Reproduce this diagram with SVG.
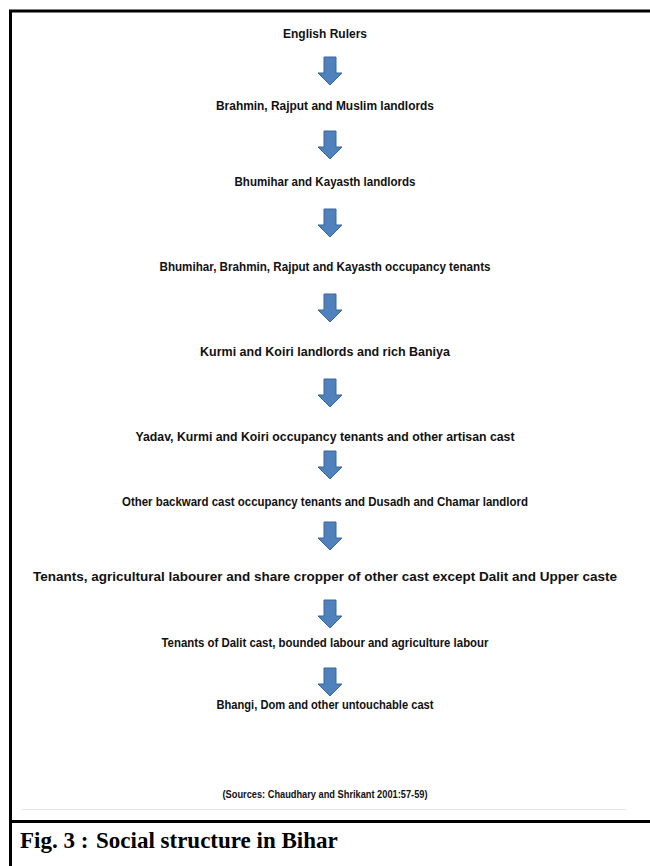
<svg xmlns="http://www.w3.org/2000/svg" width="650" height="866" viewBox="0 0 650 866">
<style>
.t{font-family:"Liberation Sans",Arial,sans-serif;font-weight:bold;font-size:12.6px;fill:#111;text-anchor:middle}
.src{font-family:"Liberation Sans",Arial,sans-serif;font-weight:bold;font-size:11px;fill:#111;text-anchor:middle}
.cap{font-family:"Liberation Serif","Times New Roman",serif;font-weight:bold;font-size:23px;fill:#000}
.ar{fill:#4F81BD;stroke:#3B679A;stroke-width:1}
</style>
<defs>
<path id="arr" d="M-6,0 H6 V16 H12 L0,28 L-12,16 H-6 Z"/>
</defs>
<rect width="650" height="866" fill="#fff"/>
<g id="frame" fill="none" stroke="#000" stroke-width="3">
<path d="M10.5,866 V11 H650"/>
<path d="M10,821.5 H650"/>
</g>
<line x1="22" y1="809.5" x2="626" y2="809.5" stroke="#e6e6e6" stroke-width="1"/>
<g id="n1"><text class="t" x="325" y="38" textLength="84" lengthAdjust="spacingAndGlyphs">English Rulers</text></g>
<g id="n2"><text class="t" x="325" y="110" textLength="218" lengthAdjust="spacingAndGlyphs">Brahmin, Rajput and Muslim landlords</text></g>
<g id="n3"><text class="t" x="325" y="186" textLength="181" lengthAdjust="spacingAndGlyphs">Bhumihar and Kayasth landlords</text></g>
<g id="n4"><text class="t" x="325" y="271" textLength="331" lengthAdjust="spacingAndGlyphs">Bhumihar, Brahmin, Rajput and Kayasth occupancy tenants</text></g>
<g id="n5"><text class="t" x="325" y="356" textLength="250" lengthAdjust="spacingAndGlyphs">Kurmi and Koiri landlords and rich Baniya</text></g>
<g id="n6"><text class="t" x="325" y="441" textLength="379" lengthAdjust="spacingAndGlyphs">Yadav, Kurmi and Koiri occupancy tenants and other artisan cast</text></g>
<g id="n7"><text class="t" x="325" y="506" textLength="406" lengthAdjust="spacingAndGlyphs">Other backward cast occupancy tenants and Dusadh and Chamar landlord</text></g>
<g id="n8"><text class="t" x="325" y="581" textLength="584" lengthAdjust="spacingAndGlyphs">Tenants, agricultural labourer and share cropper of other cast except Dalit and Upper caste</text></g>
<g id="n9"><text class="t" x="325" y="647" textLength="327" lengthAdjust="spacingAndGlyphs">Tenants of Dalit cast, bounded labour and agriculture labour</text></g>
<g id="n10"><text class="t" x="325" y="709" textLength="217" lengthAdjust="spacingAndGlyphs">Bhangi, Dom and other untouchable cast</text></g>
<g id="source"><text class="src" x="325" y="798" textLength="205" lengthAdjust="spacingAndGlyphs">(Sources: Chaudhary and Shrikant 2001:57-59)</text></g>
<g id="connectors" class="ar">
<use href="#arr" x="330" y="57"/>
<use href="#arr" x="330" y="131"/>
<use href="#arr" x="330" y="209"/>
<use href="#arr" x="330" y="294"/>
<use href="#arr" x="330" y="379"/>
<use href="#arr" x="330" y="451"/>
<use href="#arr" x="330" y="522"/>
<use href="#arr" x="330" y="600"/>
<use href="#arr" x="330" y="668"/>
</g>
<g id="caption"><text class="cap" x="20" y="848">Fig. 3 :<tspan x="96">Social structure in Bihar</tspan></text></g>
</svg>
